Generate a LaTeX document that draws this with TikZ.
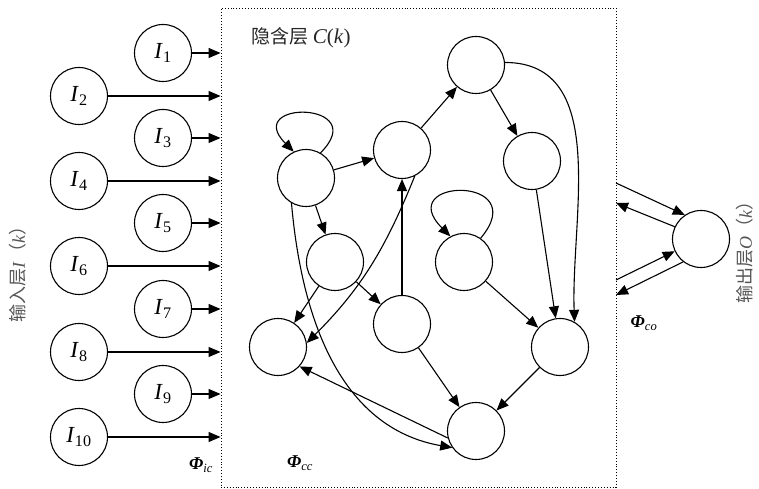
\documentclass[tikz,border=0pt]{standalone}
\usepackage{fontspec}
\setmainfont{Liberation Serif}
\usetikzlibrary{arrows.meta}
\newfontfamily\cjk{Noto Sans CJK SC}
\definecolor{LabGray}{RGB}{85,85,85}
\newcommand{\unit}[2]{\textit{#1}\textsubscript{#2}}
\newcommand{\phisym}[1]{\textbf{\textit{Φ}}\textsubscript{\textit{#1}}}

\begin{document}
\begin{tikzpicture}[x=1pt, y=1pt,
    neuron/.style={circle, draw, line width=1.1pt, minimum size=57pt,
                   inner sep=0pt, font=\fontsize{23}{26}\selectfont},
    layer/.style={draw, dotted, line width=0.9pt, minimum width=395pt,
                  minimum height=479pt, inner sep=0pt},
    arr/.style={-{Triangle[length=12pt,width=10pt]}, line width=1.1pt},
    phi/.style={font=\fontsize{18}{20}\selectfont},
    side/.style={font=\cjk\fontsize{18}{20}\selectfont, text=LabGray, rotate=90},
    selfloop/.style={out=45, in=135, looseness=7}
  ]
  \useasboundingbox (0,0) rectangle (759,489);

  \node[layer] (hid) at (418.5,241.5) {};
  \node[anchor=west, font=\cjk\fontsize{19}{22}\selectfont, text=black!85]
        (hlab) at (248,451) {隐含层 {\rmfamily\fontsize{21}{22}\selectfont\textit{C}(\textit{k})}};

  \foreach \i/\ix/\iy in {1/163/436, 2/79/393, 3/163/351, 4/79/308, 5/163/266,
                          6/79/223, 7/163/180, 8/79/137, 9/163/95, 10/79/52} {
    \node[neuron] (I\i) at (\ix,\iy) {\unit{I}{\i}};
    \draw[arr] (I\i) -- (I\i -| hid.west);
  }

  \node[neuron] (h1)  at (306,311) {};
  \node[neuron] (h2)  at (402,339) {};
  \node[neuron] (h3)  at (476,424) {};
  \node[neuron] (h4)  at (532,328) {};
  \node[neuron] (h5)  at (335,227) {};
  \node[neuron] (h6)  at (464,227) {};
  \node[neuron] (h7)  at (278,142) {};
  \node[neuron] (h8)  at (402,165) {};
  \node[neuron] (h9)  at (560,142) {};
  \node[neuron] (h10) at (476,58)  {};

  \foreach \a/\b in {h1/h2, h1/h5, h2/h3, h3/h4, h4/h9, h5/h7, h5/h8,
                     h8/h2, h8/h10, h6/h9, h9/h10}
    \draw[arr] (\a) -- (\b);

  \draw[arr] (h1.60) to[selfloop] (h1.115);
  \draw[arr] (h6.55) to[selfloop, out=50] (h6.118);
  \draw[arr] (h1.240) to[out=275, in=170, looseness=1] (h10.215);
  \draw[arr] (h2.296) to[out=248, in=45] (h7.8);
  \draw[arr] (h3.5) to[out=0, in=92, looseness=1] (h9.60);
  \draw[arr] (h10.194) -- (h7.-42);

  \node[neuron] (out) at (701,250) {};
  \coordinate (o1) at (616,306);
  \coordinate (o2) at (616,286);
  \coordinate (o3) at (616,209);
  \coordinate (o4) at (616,194);
  \draw[arr] (o1) -- (out.124);
  \draw[arr] (out.155) -- (o2);
  \draw[arr] (o3) -- (out.205);
  \draw[arr] (out.232) -- (o4);

  \node[phi] (phiic) at (201,24)  {\phisym{ic}};
  \node[phi] (phicc) at (300,26)  {\phisym{cc}};
  \node[phi] (phico) at (644,166) {\phisym{co}};

  \node[side] (inlab)  at (18,219)  {输入层{\rmfamily\textit{I}}（{\rmfamily\textit{k}}）};
  \node[side] (outlab) at (745,241) {输出层{\rmfamily\textit{O}}（{\rmfamily\textit{k}}）};
\end{tikzpicture}
\end{document}
